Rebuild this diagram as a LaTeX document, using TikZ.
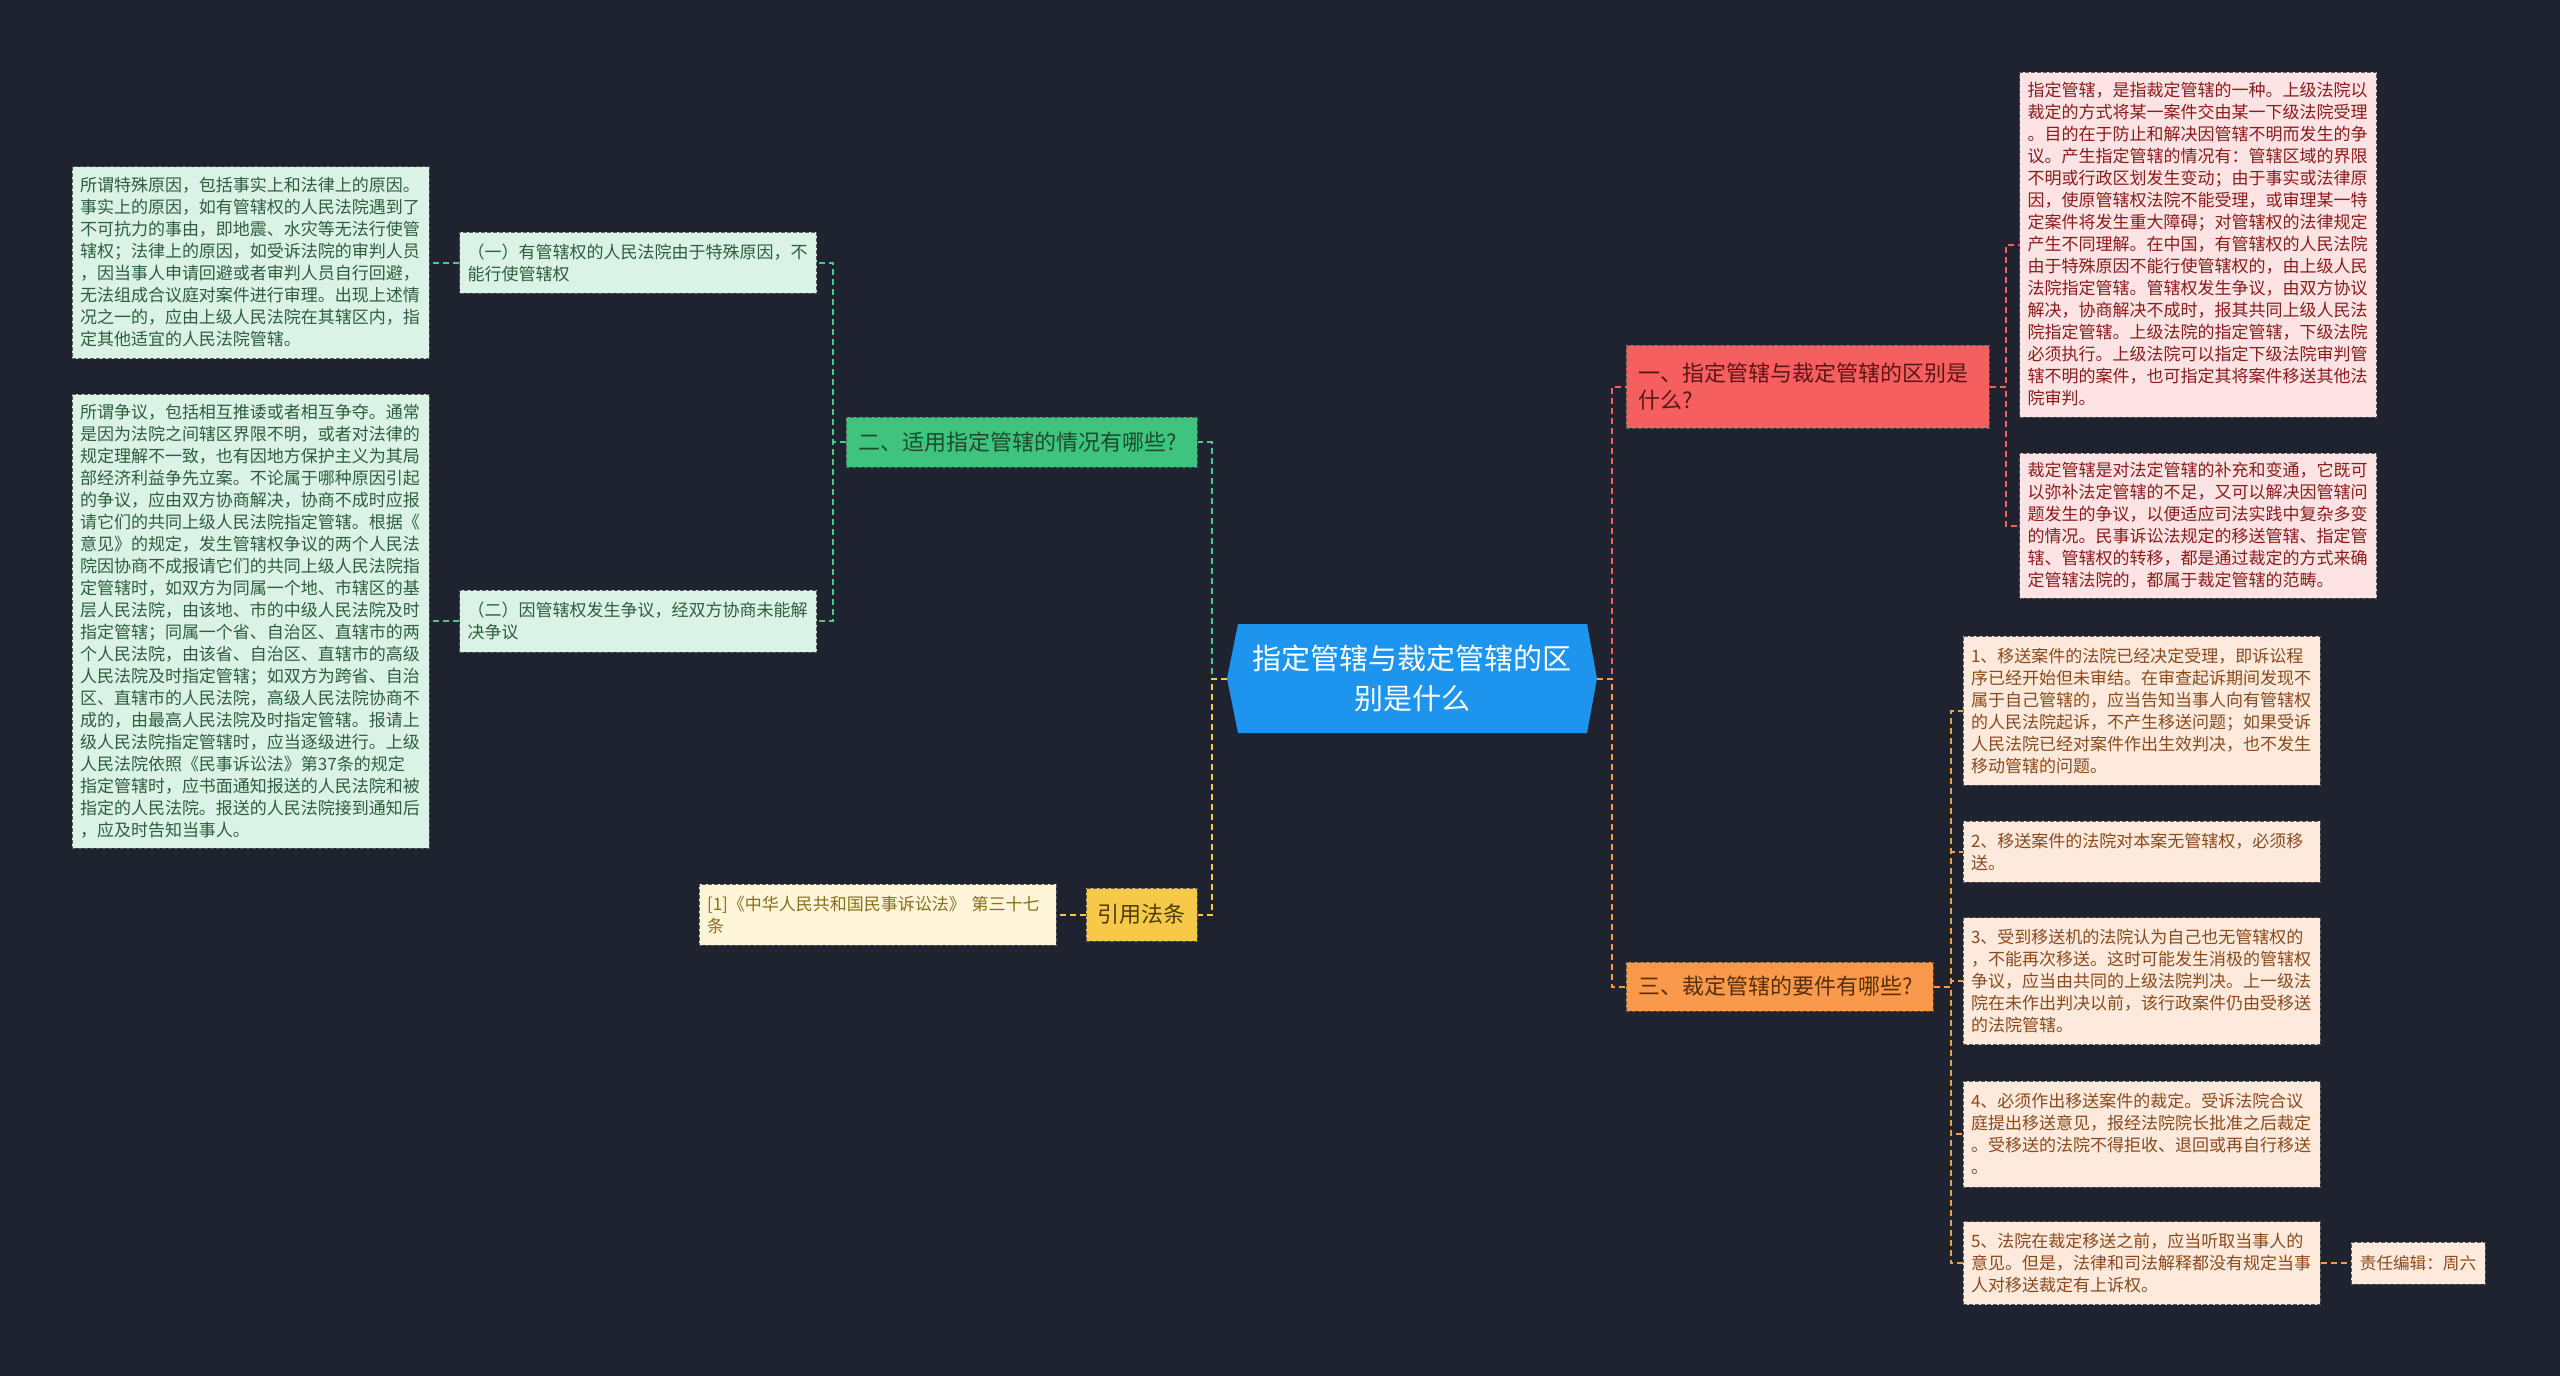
\documentclass[tikz,border=0pt]{standalone}
\usepackage{fontspec}
\setmainfont{Noto Sans CJK SC}
\definecolor{bgc}{HTML}{1F2330}
\definecolor{cblue}{HTML}{1D95EE}
\definecolor{cgreen}{HTML}{3EC47F}
\definecolor{cgreenline}{HTML}{4CC98A}
\definecolor{cgtext}{HTML}{1E4A30}
\definecolor{gfill}{HTML}{DBF3E6}
\definecolor{gtext}{HTML}{2E5E3E}
\definecolor{cyel}{HTML}{F7C948}
\definecolor{cytext}{HTML}{4F3C0C}
\definecolor{cfill}{HTML}{FFF5D9}
\definecolor{ctext}{HTML}{8A6E1E}
\definecolor{cred}{HTML}{F65F5F}
\definecolor{crtext}{HTML}{5C1515}
\definecolor{pfill}{HTML}{FDE3E3}
\definecolor{ptext}{HTML}{8C1C1C}
\definecolor{corg}{HTML}{F9994B}
\definecolor{cotext}{HTML}{5A2E0A}
\definecolor{ofill}{HTML}{FDEADC}
\definecolor{otext}{HTML}{8A4A1E}
\tikzset{
  bd/.style={draw=black!65, line width=0.5pt, dash pattern=on 2pt off 1pt},
  lf/.style={bd, font=\fontsize{8.5}{11}\selectfont, align=left, text width=170.5pt, inner xsep=4pt, inner ysep=0pt},
  lfg/.style={lf, fill=gfill, text=gtext},
  lfp/.style={lf, fill=pfill, text=ptext},
  lfo/.style={lf, fill=ofill, text=otext},
  lfc/.style={lf, fill=cfill, text=ctext},
  br/.style={bd, font=\fontsize{11}{13.5}\selectfont, align=left, inner xsep=6pt, inner ysep=0pt},
  cn/.style={line width=1pt, dash pattern=on 3pt off 2pt},
}
\begin{document}
\begin{tikzpicture}[x=0.5pt,y=-0.5pt]
\fill[bgc] (0,0) rectangle (2560,1376);
% center
\fill[cblue] (1238,624) -- (1587,624) -- (1597,678.5) -- (1587,733) -- (1238,733) -- (1227,678.5) -- cycle;
\node[minimum width=185pt, minimum height=54.5pt, inner sep=0pt, text=white, font=\fontsize{14.5}{20}\selectfont, align=center] (c) at (1412,678.5) {指定管辖与裁定管辖的区\\别是什么};
% left side
\node[br, fill=cgreen, text=cgtext, text width=163.5pt, minimum height=25pt] (gb) at (1021.5,442) {二、适用指定管辖的情况有哪些?};
\node[lfg, minimum height=30.5pt] (g1) at (638,262.5) {（一）有管辖权的人民法院由于特殊原因，不\\能行使管辖权};
\node[lfg, minimum height=31pt] (g2) at (638,621) {（二）因管辖权发生争议，经双方协商未能解\\决争议};
\node[lfg, minimum height=96pt] (l1) at (250.5,262.5) {所谓特殊原因，包括事实上和法律上的原因。\\事实上的原因，如有管辖权的人民法院遇到了\\不可抗力的事由，即地震、水灾等无法行使管\\辖权；法律上的原因，如受诉法院的审判人员\\，因当事人申请回避或者审判人员自行回避，\\无法组成合议庭对案件进行审理。出现上述情\\况之一的，应由上级人民法院在其辖区内，指\\定其他适宜的人民法院管辖。};
\node[lfg, minimum height=227pt] (l2) at (250.5,621) {所谓争议，包括相互推诿或者相互争夺。通常\\是因为法院之间辖区界限不明，或者对法律的\\规定理解不一致，也有因地方保护主义为其局\\部经济利益争先立案。不论属于哪种原因引起\\的争议，应由双方协商解决，协商不成时应报\\请它们的共同上级人民法院指定管辖。根据《\\意见》的规定，发生管辖权争议的两个人民法\\院因协商不成报请它们的共同上级人民法院指\\定管辖时，如双方为同属一个地、市辖区的基\\层人民法院，由该地、市的中级人民法院及时\\指定管辖；同属一个省、自治区、直辖市的两\\个人民法院，由该省、自治区、直辖市的高级\\人民法院及时指定管辖；如双方为跨省、自治\\区、直辖市的人民法院，高级人民法院协商不\\成的，由最高人民法院及时指定管辖。报请上\\级人民法院指定管辖时，应当逐级进行。上级\\人民法院依照《民事诉讼法》第37条的规定\\指定管辖时，应书面通知报送的人民法院和被\\指定的人民法院。报送的人民法院接到通知后\\，应及时告知当事人。};
\node[bd, fill=cyel, text=cytext, font=\fontsize{11}{13.5}\selectfont, inner sep=0pt, minimum width=55.5pt, minimum height=26.5pt] (yl) at (1141.5,914.5) {引用法条};
\node[lfc, minimum height=30.5pt] (ct) at (877.5,914.5) {[1]《中华人民共和国民事诉讼法》 第三十七\\条};
% right side
\node[br, fill=cred, text=crtext, text width=169.5pt, minimum height=41.5pt] (rd) at (1807.5,386.5) {一、指定管辖与裁定管辖的区别是\\什么?};
\node[br, fill=corg, text=cotext, text width=141.5pt, minimum height=24.5pt] (og) at (1779.5,986.5) {三、裁定管辖的要件有哪些?};
\node[lfp, minimum height=172.5pt] (p1) at (2198,244.5) {指定管辖，是指裁定管辖的一种。上级法院以\\裁定的方式将某一案件交由某一下级法院受理\\。目的在于防止和解决因管辖不明而发生的争\\议。产生指定管辖的情况有：管辖区域的界限\\不明或行政区划发生变动；由于事实或法律原\\因，使原管辖权法院不能受理，或审理某一特\\定案件将发生重大障碍；对管辖权的法律规定\\产生不同理解。在中国，有管辖权的人民法院\\由于特殊原因不能行使管辖权的，由上级人民\\法院指定管辖。管辖权发生争议，由双方协议\\解决，协商解决不成时，报其共同上级人民法\\院指定管辖。上级法院的指定管辖，下级法院\\必须执行。上级法院可以指定下级法院审判管\\辖不明的案件，也可指定其将案件移送其他法\\院审判。};
\node[lfp, minimum height=72.5pt] (p2) at (2198,525.5) {裁定管辖是对法定管辖的补充和变通，它既可\\以弥补法定管辖的不足，又可以解决因管辖问\\题发生的争议，以便适应司法实践中复杂多变\\的情况。民事诉讼法规定的移送管辖、指定管\\辖、管辖权的转移，都是通过裁定的方式来确\\定管辖法院的，都属于裁定管辖的范畴。};
\node[lfo, minimum height=74.5pt] (o1) at (2141.5,710.5) {1、移送案件的法院已经决定受理，即诉讼程\\序已经开始但未审结。在审查起诉期间发现不\\属于自己管辖的，应当告知当事人向有管辖权\\的人民法院起诉，不产生移送问题；如果受诉\\人民法院已经对案件作出生效判决，也不发生\\移动管辖的问题。};
\node[lfo, minimum height=30.5pt] (o2) at (2141.5,851.5) {2、移送案件的法院对本案无管辖权，必须移\\送。};
\node[lfo, minimum height=63.5pt] (o3) at (2141.5,981) {3、受到移送机的法院认为自己也无管辖权的\\，不能再次移送。这时可能发生消极的管辖权\\争议，应当由共同的上级法院判决。上一级法\\院在未作出判决以前，该行政案件仍由受移送\\的法院管辖。};
\node[lfo, minimum height=53pt] (o4) at (2141.5,1134) {4、必须作出移送案件的裁定。受诉法院合议\\庭提出移送意见，报经法院院长批准之后裁定\\。受移送的法院不得拒收、退回或再自行移送\\。};
\node[lfo, minimum height=41.5pt] (o5) at (2141.5,1263) {5、法院在裁定移送之前，应当听取当事人的\\意见。但是，法律和司法解释都没有规定当事\\人对移送裁定有上诉权。};
\node[bd, fill=ofill, text=otext, font=\fontsize{8.3}{11}\selectfont, inner sep=0pt, minimum width=67pt, minimum height=21pt] (ed) at (2418,1263) {责任编辑：周六};
% connectors
\draw[cn, cgreenline] (c.west) -- ++(-15,0) |- (gb.east);
\draw[cn, cyel] (c.west) -- ++(-15,0) |- (yl.east);
\draw[cn, cgreenline] (gb.west) -- ++(-13,0) |- (g1.east);
\draw[cn, cgreenline] (gb.west) -- ++(-13,0) |- (g2.east);
\draw[cn, cgreenline] (g1.west) -- (l1.east);
\draw[cn, cgreenline] (g2.west) -- (l2.east);
\draw[cn, cyel] (yl.west) -- (ct.east);
\draw[cn, cred] (c.east) -- ++(15,0) |- (rd.west);
\draw[cn, corg] (c.east) -- ++(15,0) |- (og.west);
\draw[cn, cred] (rd.east) -- ++(16,0) |- (p1.west);
\draw[cn, cred] (rd.east) -- ++(16,0) |- (p2.west);
\draw[cn, corg] (og.east) -- ++(17,0) |- (o1.west);
\draw[cn, corg] (og.east) -- ++(17,0) |- (o2.west);
\draw[cn, corg] (og.east) -- ++(17,0) |- (o3.west);
\draw[cn, corg] (og.east) -- ++(17,0) |- (o4.west);
\draw[cn, corg] (og.east) -- ++(17,0) |- (o5.west);
\draw[cn, corg] (o5.east) -- (ed.west);
\end{tikzpicture}
\end{document}
